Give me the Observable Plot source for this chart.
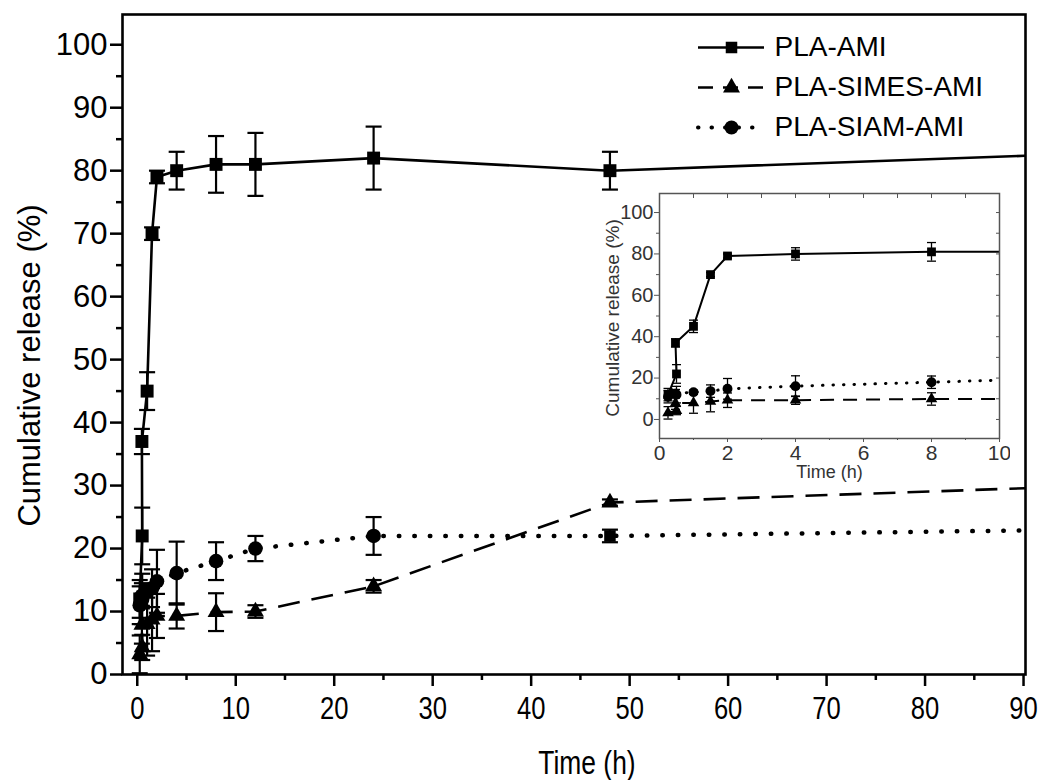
<!DOCTYPE html>
<html><head><meta charset="utf-8">
<script src="https://cdn.jsdelivr.net/npm/d3@7"></script>
<script src="https://cdn.jsdelivr.net/npm/@observablehq/plot@0.6"></script>
<style>
body{margin:0;background:#fff;}
#wrap{position:relative;width:1045px;height:780px;font-family:"Liberation Sans",Arial,sans-serif;}
#wrap > div{position:absolute;}
</style></head><body>
<div id="wrap"><div id="main" style="left:0;top:0"></div><div id="inset" style="left:590px;top:180px"></div><div id="legend" style="left:680px;top:20px"></div></div>
<script>
// ---- data ----
const seriesNames = ["PLA-AMI", "PLA-SIMES-AMI", "PLA-SIAM-AMI"];
const timeH = [0.25, 0.5, 0.47, 1, 1.5, 2, 4, 8, 12, 24, 48, 96];
const releaseAMI = [12, 22, 37, 45, 70, 79, 80, 81, 81, 82, 80, 82.7];
const errAMI     = [3, 4.5, 2, 3, 1, 1, 3, 4.5, 5, 5, 3, 0];
const releaseSIMES = [3.2, 4.3, 7.9, 8, 8.7, 9.3, 9.3, 9.9, 10, 14, 27.3, 29.9];
const errSIMES     = [3, 2, 3, 5, 5, 3.5, 2, 3, 1, 1, 0.5, 0];
const releaseSIAM = [11, 12, 12.5, 13.2, 13.7, 14.8, 16.1, 18, 20, 22, 22, 23];
const errSIAM     = [3, 4, 2, 1, 3, 5, 5, 3, 2, 3, 1, 0];
const mainXTicks = d3.range(0, 91, 10), mainXMinor = d3.range(5, 91, 10);
const mainYTicks = d3.range(0, 101, 10), mainYMinor = d3.range(5, 101, 10);
const insetXTicks = d3.range(0, 11, 2), insetXMinor = d3.range(1, 10, 2);
const insetYTicks = d3.range(0, 101, 20), insetYMinor = d3.range(10, 101, 20);

const rows = [];
[[releaseAMI, errAMI], [releaseSIMES, errSIMES], [releaseSIAM, errSIAM]].forEach(([vs, es], k) =>
  timeH.forEach((t, i) => rows.push({series: seriesNames[k], t, v: vs[i], e: es[i]})));

const cap = {draw(ctx, size) { const h = Math.sqrt(size / Math.PI); ctx.moveTo(-h, 0); ctx.lineTo(h, 0); }};

function seriesMarks(sc) {
  const st = {
    "PLA-AMI": {dash: null, sym: "square", r: 7.3 * sc.m},
    "PLA-SIMES-AMI": {dash: sc.dash, sym: "triangle", r: 6.3 * sc.m},
    "PLA-SIAM-AMI": {dash: sc.dot, sym: "circle", r: 7.3 * sc.m}
  };
  const marks = [];
  for (const name of seriesNames) {
    const d = rows.filter(r => r.series === name);
    const s = st[name];
    marks.push(Plot.line(d, {x: "t", y: "v", stroke: "black", strokeWidth: name === "PLA-SIAM-AMI" ? sc.dotW : sc.lw,
      strokeDasharray: s.dash, strokeLinecap: name === "PLA-SIAM-AMI" ? "round" : "butt", clip: true}));
    const de = d.filter(r => r.e > 0);
    marks.push(Plot.ruleX(de, {x: "t", y1: r => r.v - r.e, y2: r => r.v + r.e, stroke: "black", strokeWidth: sc.ew, clip: true}));
    marks.push(Plot.dot(de, {x: "t", y: r => r.v + r.e, symbol: cap, r: sc.cap, stroke: "black", strokeWidth: sc.ew, fill: "none", clip: true}));
    marks.push(Plot.dot(de, {x: "t", y: r => r.v - r.e, symbol: cap, r: sc.cap, stroke: "black", strokeWidth: sc.ew, fill: "none", clip: true}));
    if (name === "PLA-SIAM-AMI" && sc.m === 1) {
      // in the reference the 48 h marker of this series is drawn as a square
      marks.push(Plot.dot(d.filter(r => r.t !== 48), {x: "t", y: "v", symbol: s.sym, r: s.r, fill: "black", stroke: "none", clip: true}));
      marks.push(Plot.dot(d.filter(r => r.t === 48), {x: "t", y: "v", symbol: "square", r: 6.5, fill: "black", stroke: "none", clip: true}));
    } else {
      marks.push(Plot.dot(d, {x: "t", y: "v", symbol: s.sym, r: s.r, fill: "black", stroke: "none", clip: true}));
    }
  }
  return marks;
}

const narrow = (svg) => {
  d3.select(svg).selectAll('g[aria-label="x-axis tick label"] text, text.narrow, g.narrow text')
    .attr("transform", function () { return (this.getAttribute("transform") || "") + " scale(0.8,1)"; });
};

// ---- main chart ----
const main = Plot.plot({
  width: 1045, height: 780,
  marginLeft: 122, marginRight: 20, marginTop: 14, marginBottom: 106,
  x: {domain: [-1.5, 90.2]},
  y: {domain: [0, 104.8]},
  style: {fontFamily: "Liberation Sans, Arial, sans-serif", color: "black", background: "white"},
  marks: [
    ...seriesMarks({m: 1, lw: 2.6, dash: "22,12", dot: "0.5,15", dotW: 4.5, ew: 2.2, cap: 8}),
    Plot.axisY(mainYTicks, {tickSize: 12, tickPadding: 3, fontSize: 31, label: null, strokeWidth: 2.5}),
    Plot.axisY(mainYMinor, {tickSize: 6, text: null, label: null, strokeWidth: 2.5}),
    Plot.axisX(mainXTicks, {tickSize: 12, tickPadding: 10, fontSize: 32, label: null, strokeWidth: 2.5}),
    Plot.axisX(mainXMinor, {tickSize: 6, text: null, label: null, strokeWidth: 2.5}),
    Plot.frame({stroke: "black", strokeWidth: 2.6}),
    Plot.text(["Cumulative release (%)"], {frameAnchor: "left", textAnchor: "middle", dx: -92, dy: 21, rotate: -90, fontSize: 31}),
    Plot.text(["Time (h)"], {frameAnchor: "bottom", textAnchor: "middle", dx: 13, dy: 99, fontSize: 33, className: "narrow"})
  ]
});
narrow(main);
document.getElementById("main").append(main);

// ---- inset ----
const inset = Plot.plot({
  width: 420, height: 310,
  marginLeft: 69, marginRight: 11, marginTop: 13, marginBottom: 52,
  x: {domain: [0, 10]},
  y: {domain: [-9.2, 109.2]},
  style: {fontFamily: "Liberation Sans, Arial, sans-serif", color: "#333", background: "transparent"},
  marks: [
    Plot.frame({fill: "white", stroke: "none"}),
    ...seriesMarks({m: 0.68, lw: 2, dash: "14,9", dot: "0.5,10", dotW: 3, ew: 1.3, cap: 4.5}),
    Plot.axisY(insetYTicks, {tickSize: 5, tickPadding: 1, fontSize: 20, label: null, stroke: "#555"}),
    Plot.axisY(insetYMinor, {tickSize: 3, text: null, label: null, stroke: "#555"}),
    Plot.axisY(insetYTicks.concat(insetYMinor), {anchor: "right", tickSize: -4, text: null, label: null, stroke: "#555"}),
    Plot.axisX(insetXTicks, {tickSize: 4, tickPadding: 3, fontSize: 21, label: null, stroke: "#555"}),
    Plot.axisX(insetXMinor, {tickSize: 2, text: null, label: null, stroke: "#555"}),
    Plot.axisX(insetXTicks.concat(insetXMinor), {anchor: "top", tickSize: -4, text: null, label: null, stroke: "#555"}),
    Plot.frame({stroke: "#555", strokeWidth: 1.5}),
    Plot.text(["Cumulative release (%)"], {frameAnchor: "left", textAnchor: "middle", dx: -47, dy: 2, rotate: -90, fontSize: 19}),
    Plot.text(["Time (h)"], {frameAnchor: "bottom", textAnchor: "middle", dx: 0, dy: 39, fontSize: 18})
  ]
});
document.getElementById("inset").append(inset);

// ---- legend ----
const legend = Plot.plot({
  width: 340, height: 140, margin: 0,
  x: {domain: [0, 1], range: [18, 84], axis: null},
  y: {type: "point", domain: seriesNames, range: [27, 107], padding: 0, axis: null},
  style: {fontFamily: "Liberation Sans, Arial, sans-serif", color: "black", background: "transparent"},
  marks: [
    Plot.ruleY([seriesNames[0]], {y: d => d, x1: 0, x2: 1, stroke: "black", strokeWidth: 2.6}),
    Plot.ruleY([seriesNames[1]], {y: d => d, x1: 0, x2: 1, stroke: "black", strokeWidth: 2.6, strokeDasharray: "15,10"}),
    Plot.ruleY([seriesNames[2]], {y: d => d, x1: 0, x2: 1, stroke: "black", strokeWidth: 4, strokeDasharray: "0.5,13", strokeLinecap: "round"}),
    Plot.dot([seriesNames[0]], {x: () => 0.5, y: d => d, symbol: "square", r: 6.5, fill: "black"}),
    Plot.dot([seriesNames[1]], {x: () => 0.5, y: d => d, symbol: "triangle", r: 6.3, fill: "black"}),
    Plot.dot([seriesNames[2]], {x: () => 0.5, y: d => d, symbol: "circle", r: 7, fill: "black"}),
    Plot.text(seriesNames, {x: () => 1, y: d => d, text: d => d, textAnchor: "start", dx: 10, fontSize: 28})
  ]
});
document.getElementById("legend").append(legend);
</script>
</body></html>
